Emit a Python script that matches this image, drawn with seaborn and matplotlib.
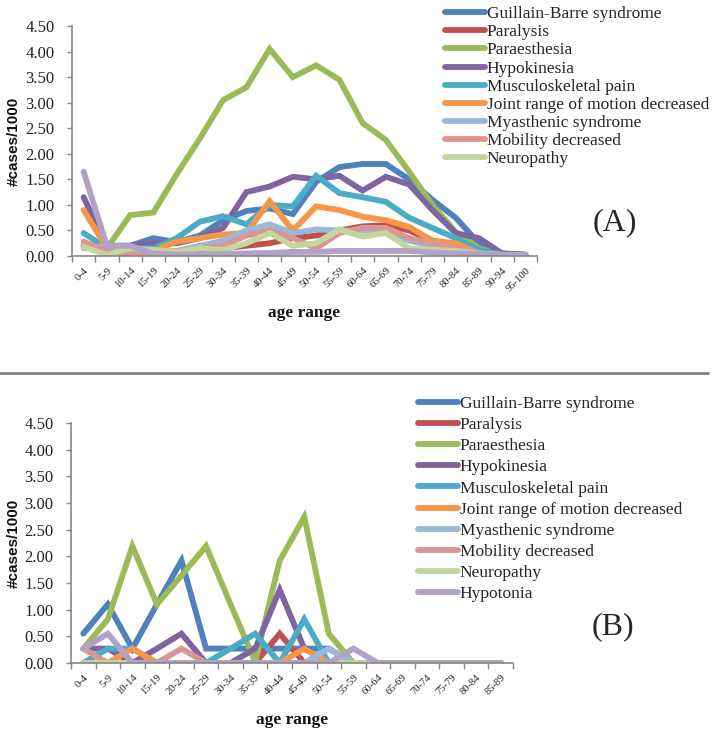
import numpy as np
import pandas as pd
import matplotlib
matplotlib.use("Agg")
import matplotlib.pyplot as plt
from matplotlib.lines import Line2D
import seaborn as sns

# ---------------- data ----------------
series_names = ["Guillain-Barre syndrome", "Paralysis", "Paraesthesia", "Hypokinesia",
                "Musculoskeletal pain", "Joint range of motion decreased",
                "Myasthenic syndrome", "Mobility decreased", "Neuropathy", "Hypotonia"]
colors = ["#4F81BD", "#C0504D", "#9BBB59", "#8064A2", "#4BACC6", "#F79646",
          "#9DB7DA", "#D99694", "#C3D69B", "#B3A2C7"]

ages_a = ["0-4", "5-9", "10-14", "15-19", "20-24", "25-29", "30-34", "35-39", "40-44",
          "45-49", "50-54", "55-59", "60-64", "65-69", "70-74", "75-79", "80-84",
          "85-89", "90-94", "95-100"]
gbs_a   = [0.20, 0.20, 0.20, 0.35, 0.27, 0.40, 0.70, 0.88, 0.93, 0.82, 1.45, 1.74, 1.80, 1.80, 1.50, 1.10, 0.75, 0.25, 0.05, 0.03]
par_a   = [0.20, 0.10, 0.05, 0.05, 0.05, 0.10, 0.15, 0.20, 0.25, 0.35, 0.40, 0.50, 0.58, 0.60, 0.50, 0.30, 0.20, 0.05, 0.02, 0.02]
pae_a   = [0.20, 0.15, 0.80, 0.85, 1.60, 2.30, 3.05, 3.30, 4.05, 3.50, 3.73, 3.45, 2.60, 2.27, 1.65, 1.00, 0.47, 0.15, 0.03, 0.02]
hyk_a   = [1.15, 0.20, 0.20, 0.25, 0.25, 0.35, 0.55, 1.25, 1.36, 1.55, 1.50, 1.57, 1.28, 1.55, 1.40, 0.90, 0.45, 0.35, 0.05, 0.02]
msk_a   = [0.45, 0.15, 0.15, 0.15, 0.35, 0.67, 0.78, 0.62, 1.00, 0.97, 1.57, 1.23, 1.15, 1.06, 0.75, 0.55, 0.35, 0.12, 0.03, 0.02]
jrm_a   = [0.90, 0.15, 0.05, 0.10, 0.28, 0.35, 0.42, 0.45, 1.07, 0.50, 0.97, 0.90, 0.77, 0.70, 0.57, 0.30, 0.25, 0.05, 0.02, 0.02]
mya_a   = [0.15, 0.20, 0.15, 0.10, 0.10, 0.20, 0.30, 0.50, 0.62, 0.45, 0.52, 0.50, 0.50, 0.45, 0.30, 0.20, 0.15, 0.05, 0.02, 0.02]
mob_a   = [0.28, 0.10, 0.05, 0.05, 0.10, 0.15, 0.20, 0.40, 0.50, 0.35, 0.15, 0.45, 0.55, 0.55, 0.35, 0.25, 0.15, 0.05, 0.02, 0.02]
neu_a   = [0.18, 0.02, 0.15, 0.12, 0.08, 0.15, 0.12, 0.25, 0.45, 0.20, 0.25, 0.52, 0.38, 0.45, 0.15, 0.12, 0.10, 0.05, 0.02, 0.02]
hyt_a   = [1.65, 0.20, 0.20, 0.05, 0.03, 0.03, 0.04, 0.05, 0.06, 0.08, 0.08, 0.10, 0.10, 0.10, 0.10, 0.07, 0.05, 0.04, 0.02, 0.02]

ages_b = ["0-4", "5-9", "10-14", "15-19", "20-24", "25-29", "30-34", "35-39", "40-44",
          "45-49", "50-54", "55-59", "60-64", "65-69", "70-74", "75-79", "80-84", "85-89"]
gbs_b = [0.55, 1.10, 0.27, 1.10, 1.92, 0.27, 0.27, 0.27, 0.27, 0.27, 0.27, 0, 0, 0, 0, 0, 0, 0]
par_b = [0, 0, 0, 0, 0, 0, 0, 0, 0.55, 0, 0, 0, 0, 0, 0, 0, 0, 0]
pae_b = [0.27, 0.82, 2.19, 1.10, 1.64, 2.19, 1.10, 0.02, 1.92, 2.74, 0.55, 0, 0, 0, 0, 0, 0, 0]
hyk_b = [0.27, 0.27, 0, 0.27, 0.55, 0, 0, 0.27, 1.37, 0.27, 0, 0, 0, 0, 0, 0, 0, 0]
msk_b = [0, 0.27, 0.27, 0, 0, 0, 0.27, 0.55, 0, 0.82, 0, 0, 0, 0, 0, 0, 0, 0]
jrm_b = [0, 0, 0.27, 0, 0, 0, 0, 0, 0, 0.27, 0, 0, 0, 0, 0, 0, 0, 0]
mya_b = [0, 0, 0, 0, 0, 0, 0, 0, 0, 0, 0.27, 0, 0, 0, 0, 0, 0, 0]
mob_b = [0.27, 0, 0, 0, 0.27, 0, 0, 0, 0, 0, 0, 0, 0, 0, 0, 0, 0, 0]
neu_b = [0, 0, 0, 0, 0, 0, 0, 0, 0, 0, 0, 0, 0, 0, 0, 0, 0, 0]
hyt_b = [0.27, 0.55, 0, 0, 0, 0, 0, 0, 0, 0, 0, 0.27, 0, 0, 0, 0, 0, 0]

yticks = [0, 0.5, 1.0, 1.5, 2.0, 2.5, 3.0, 3.5, 4.0, 4.5]

vals_a = [gbs_a, par_a, pae_a, hyk_a, msk_a, jrm_a, mya_a, mob_a, neu_a, hyt_a]
vals_b = [gbs_b, par_b, pae_b, hyk_b, msk_b, jrm_b, mya_b, mob_b, neu_b, hyt_b]


def long_df(ages, vals):
    rows = []
    for name, v in zip(series_names, vals):
        for a, y in zip(ages, v):
            rows.append((name, a, y))
    return pd.DataFrame(rows, columns=["series", "age", "value"])


sns.set_theme(style="white")
plt.rcParams["font.family"] = ["Liberation Serif", "DejaVu Serif"]

GREY = "#868686"
fig = plt.figure(figsize=(7.14, 7.34), dpi=100)
W, H = 714, 734


def px_axes(l, t, r, b):
    return fig.add_axes([l / W, 1 - b / H, (r - l) / W, (b - t) / H])


ax_a = px_axes(72, 26, 537, 256)
ax_b = px_axes(71, 423, 513, 663)
palette = dict(zip(series_names, colors))


def draw(ax, ages, vals, legend_n, leg_anchor, leg_spacing, ylab_x, xlab_y):
    df = long_df(ages, vals)
    sns.lineplot(data=df, x="age", y="value", hue="series", palette=palette,
                 hue_order=series_names, linewidth=4.2, sort=False, estimator=None,
                 legend=False, ax=ax, solid_joinstyle="miter", solid_capstyle="round")
    n = len(ages)
    ax.set_xlim(-0.5, n - 0.5)
    ax.set_ylim(0, 4.5)
    ax.set_yticks(yticks)
    ax.set_yticklabels([f"{t:.2f}" for t in yticks], fontsize=12, color="#222222")
    ax.set_xticks(range(n))
    ax.set_xticklabels(ages, rotation=45, ha="right", rotation_mode="anchor",
                       fontsize=7.6, color="#222222")
    ax.set_xticks(np.arange(-0.5, n, 1.0), minor=True)
    ax.tick_params(axis="x", which="major", length=0, pad=7)
    ax.tick_params(axis="x", which="minor", length=4, width=1, color=GREY, direction="out", bottom=True)
    ax.tick_params(axis="y", which="major", length=3.5, width=1, color=GREY, direction="out", left=True, pad=9)
    for s in ["top", "right"]:
        ax.spines[s].set_visible(False)
    for s in ["left", "bottom"]:
        ax.spines[s].set_color(GREY)
        ax.spines[s].set_linewidth(1.2)
    ax.set_xlabel("age range", fontsize=12.5, fontweight="bold", color="#111111")
    ax.xaxis.set_label_coords(0.5, xlab_y)
    ax.set_ylabel("#cases/1000", fontsize=11, fontweight="bold", family="Liberation Sans",
                  color="#111111")
    ax.yaxis.set_label_coords(ylab_x, 0.5)
    ax.grid(False)
    handles = [Line2D([], [], color=c, lw=4.2, solid_capstyle="round") for c in colors[:legend_n]]
    fig.legend(handles, series_names[:legend_n], loc="upper left",
               bbox_to_anchor=leg_anchor, bbox_transform=fig.transFigure,
               frameon=False, fontsize=12.5, handlelength=2.3, handletextpad=0.1,
               labelspacing=leg_spacing, borderpad=0, borderaxespad=0)


draw(ax_a, ages_a, vals_a, 9, (445 / W, 1 - 6 / H), 0.115, -0.11, -0.213)
draw(ax_b, ages_b, vals_b, 10, (418 / W, 1 - 396 / H), 0.285, -0.113, -0.204)

fig.text(615 / W, 1 - 223 / H, "(A)", ha="center", va="center", fontsize=23)
fig.text(613 / W, 1 - 627 / H, "(B)", ha="center", va="center", fontsize=23)
fig.add_artist(Line2D([0, 708 / W], [1 - 373 / H, 1 - 373 / H], transform=fig.transFigure,
                      color="#808080", lw=2))

fig.savefig("out.png", dpi=100)
